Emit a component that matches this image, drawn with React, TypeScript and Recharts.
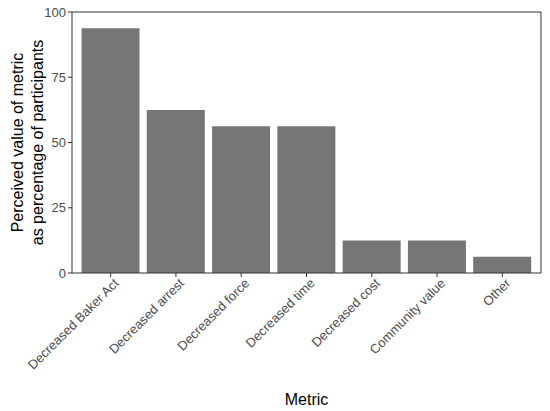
import React from 'react';
import { BarChart, Bar, XAxis, YAxis } from 'recharts';

const metrics = [
  'Decreased Baker Act',
  'Decreased arrest',
  'Decreased force',
  'Decreased time',
  'Decreased cost',
  'Community value',
  'Other',
];
const percentages = [93.75, 62.5, 56.25, 56.25, 12.5, 12.5, 6.25];
const yTicks = [0, 25, 50, 75, 100];

const data = metrics.map((m, i) => ({ metric: m, value: percentages[i] }));

const FONT = '"Liberation Sans", Arial, sans-serif';
const AXIS = '#333333';
const TICK_TEXT = '#4D4D4D';

// 45 degree labels, right end sitting just under the tick
const RotatedTick = ({ x, y, payload }: any) => {
  const ax = x + 9;
  const ay = y + 5;
  return (
    <text
      x={ax}
      y={ay}
      textAnchor="end"
      fontSize={13}
      fontFamily={FONT}
      fill={TICK_TEXT}
      transform={`rotate(-45, ${ax}, ${ay})`}
    >
      {payload.value}
    </text>
  );
};

const YTitle = ({ viewBox }: any) => {
  const cy = viewBox.y + viewBox.height / 2;
  const x1 = viewBox.x + 17;
  const x2 = viewBox.x + 37;
  return (
    <g fontFamily={FONT} fontSize={16} fill="#000">
      <text x={x1} y={cy} textAnchor="middle" dominantBaseline="central" transform={`rotate(-90, ${x1}, ${cy})`}>
        Perceived value of metric
      </text>
      <text x={x2} y={cy} textAnchor="middle" dominantBaseline="central" transform={`rotate(-90, ${x2}, ${cy})`}>
        as percentage of participants
      </text>
    </g>
  );
};

export default function App() {
  return (
    <div style={{ position: 'absolute', left: 0, top: 0, background: '#fff' }}>
      <BarChart
        width={550}
        height={411}
        data={data}
        margin={{ top: 11, right: 8, left: 0, bottom: 0 }}
        barCategoryGap={3.5}
      >
        <XAxis
          dataKey="metric"
          type="category"
          height={138}
          interval={0}
          padding={{ left: 6, right: 6 }}
          tick={<RotatedTick />}
          tickSize={4}
          tickLine={{ stroke: AXIS }}
          axisLine={{ stroke: AXIS }}
          label={{ value: 'Metric', position: 'insideBottom', offset: 6, fill: '#000', fontSize: 16, fontFamily: FONT }}
        />
        {/* top and right edges of the panel box */}
        <XAxis xAxisId="top" orientation="top" dataKey="metric" height={1} tick={false} tickLine={false} axisLine={{ stroke: AXIS }} />
        <YAxis
          domain={[0, 100]}
          ticks={yTicks}
          width={72}
          tickSize={4}
          tickLine={{ stroke: AXIS }}
          axisLine={{ stroke: AXIS }}
          tick={{ fill: TICK_TEXT, fontSize: 13, fontFamily: FONT }}
          label={<YTitle />}
        />
        <YAxis yAxisId="right" orientation="right" domain={[0, 100]} width={1} tick={false} tickLine={false} axisLine={{ stroke: AXIS }} />
        <Bar dataKey="value" fill="#767676" isAnimationActive={false} />
      </BarChart>
    </div>
  );
}
